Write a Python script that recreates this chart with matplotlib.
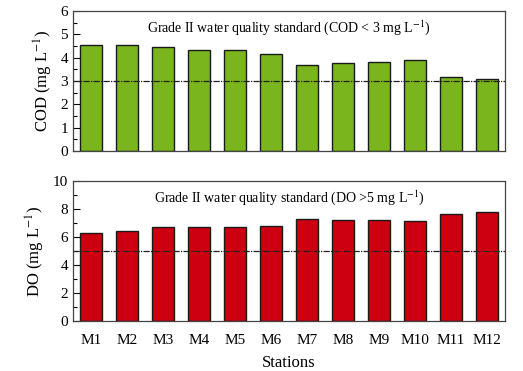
import matplotlib
matplotlib.use("Agg")
import matplotlib.pyplot as plt
from matplotlib.ticker import MultipleLocator

plt.rcParams['font.family'] = ['Liberation Serif', 'DejaVu Serif']
plt.rcParams['mathtext.fontset'] = 'stix'

# datos
stations = ["M1", "M2", "M3", "M4", "M5", "M6", "M7", "M8", "M9", "M10", "M11", "M12"]
cod = [4.53, 4.53, 4.44, 4.33, 4.31, 4.14, 3.70, 3.76, 3.80, 3.90, 3.17, 3.07]
do = [6.29, 6.45, 6.74, 6.71, 6.71, 6.81, 7.26, 7.21, 7.21, 7.14, 7.64, 7.76]
cod_std = 3
do_std = 5

fig = plt.figure(figsize=(5.23, 3.71), dpi=100)
ax1 = fig.add_axes([73 / 523, 1 - 151 / 371, 432 / 523, 140 / 371])
ax2 = fig.add_axes([73 / 523, 1 - 321 / 371, 432 / 523, 140 / 371])

x = list(range(1, len(stations) + 1))

def style_axis(ax, ymax, major, minor):
    ax.set_xlim(0.5, len(stations) + 0.5)
    ax.set_ylim(0, ymax)
    ax.yaxis.set_major_locator(MultipleLocator(major))
    ax.yaxis.set_minor_locator(MultipleLocator(minor))
    ax.tick_params(axis='y', which='both', direction='in', right=False, labelsize=11)
    ax.tick_params(axis='y', which='major', length=5, width=0.8)
    ax.tick_params(axis='y', which='minor', length=3, width=0.8)
    ax.tick_params(axis='x', length=0, labelsize=11, pad=9)
    for s in ax.spines.values():
        s.set_color("#444444")
        s.set_linewidth(0.9)

# COD
ax1.bar(x, cod, width=0.6, color="#7ab51d", edgecolor="#1a1a1a", linewidth=1.0, zorder=2)
ax1.axhline(cod_std, color="#222222", linestyle=(0, (5, 1, 1, 1)), linewidth=0.9, zorder=3)
style_axis(ax1, 6, 1, 0.5)
ax1.set_xticks([])
ax1.set_ylabel(r"COD (mg L$^{-1}$)", fontsize=12)
ax1.text(0.5, 0.88, r"Grade II water quality standard (COD < 3 mg L$^{-1}$)",
         transform=ax1.transAxes, ha="center", va="center", fontsize=10)

# DO
ax2.bar(x, do, width=0.6, color="#cc0010", edgecolor="#1a1a1a", linewidth=1.0, zorder=2)
ax2.axhline(do_std, color="#222222", linestyle=(0, (5, 1, 1, 1)), linewidth=0.9, zorder=3)
style_axis(ax2, 10, 2, 1)
ax2.set_xticks(x)
ax2.set_xticklabels(stations)
ax2.set_ylabel(r"DO (mg L$^{-1}$)", fontsize=12)
ax2.set_xlabel("Stations", fontsize=12, labelpad=6)
ax2.text(0.5, 0.88, r"Grade II water quality standard (DO >5 mg L$^{-1}$)",
         transform=ax2.transAxes, ha="center", va="center", fontsize=10)

fig.savefig("out.png", dpi=100)
